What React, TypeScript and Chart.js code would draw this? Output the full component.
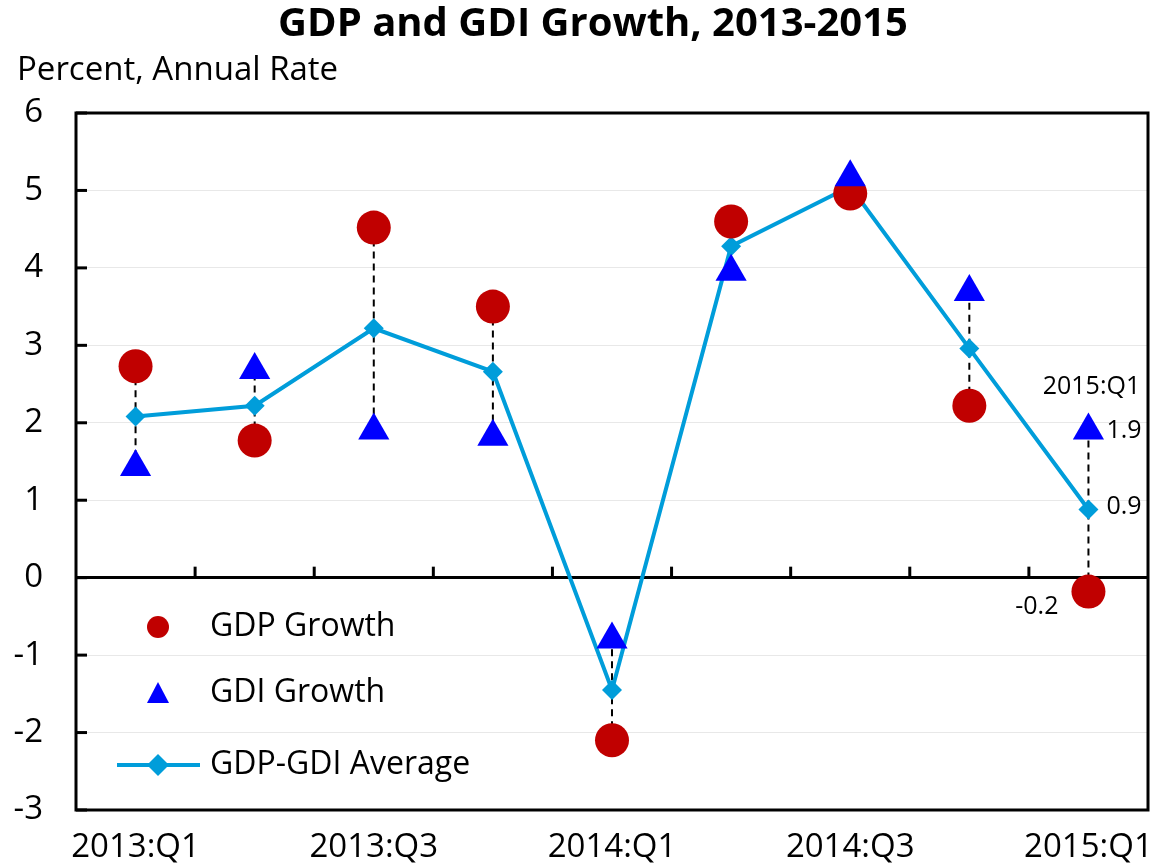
import React, { useEffect, useRef } from "react";
import { Chart, registerables } from "chart.js";

Chart.register(...registerables);

const categories = [
  "2013:Q1", "2013:Q2", "2013:Q3", "2013:Q4",
  "2014:Q1", "2014:Q2", "2014:Q3", "2014:Q4", "2015:Q1",
];
const gdpGrowth = [2.73, 1.77, 4.52, 3.5, -2.1, 4.6, 4.96, 2.22, -0.18];
const gdiGrowth = [1.43, 2.68, 1.9, 1.82, -0.8, 3.95, 5.17, 3.69, 1.9];
const gdpGdiAverage = [2.08, 2.22, 3.22, 2.66, -1.45, 4.28, 5.05, 2.96, 0.88];
const yTicks = [-3, -2, -1, 0, 1, 2, 3, 4, 5, 6];
const lastLabel = "2015:Q1";
const lastGdi = "1.9";
const lastAvg = "0.9";
const lastGdp = "-0.2";

const TITLE = "GDP and GDI Growth, 2013-2015";
const SUBTITLE = "Percent, Annual Rate";
const FONT = "'Open Sans', 'Noto Sans', sans-serif";
const RED = "#C00000";
const BLUE = "#0000FF";
const LIGHTBLUE = "#009DDA";

const decorPlugin = {
  id: "decor",
  beforeDatasetsDraw(chart: any) {
    const { ctx, chartArea: a, scales } = chart;
    const x = scales.x;
    const y = scales.y;
    ctx.save();
    // frame
    ctx.strokeStyle = "#000";
    ctx.lineWidth = 3;
    ctx.strokeRect(a.left, a.top, a.right - a.left, a.bottom - a.top);
    // inward y ticks
    ctx.lineWidth = 3;
    yTicks.forEach((v) => {
      const py = y.getPixelForValue(v);
      ctx.beginPath();
      ctx.moveTo(a.left, py);
      ctx.lineTo(a.left + 11, py);
      ctx.stroke();
    });
    // tick marks on zero line between categories
    const y0 = y.getPixelForValue(0);
    for (let i = 0; i < categories.length - 1; i++) {
      const px = (x.getPixelForValue(i) + x.getPixelForValue(i + 1)) / 2;
      ctx.beginPath();
      ctx.moveTo(px, y0);
      ctx.lineTo(px, y0 - 11);
      ctx.stroke();
    }
    // dashed connectors
    ctx.setLineDash([7, 5]);
    ctx.lineWidth = 2;
    for (let i = 0; i < categories.length; i++) {
      const px = x.getPixelForValue(i);
      ctx.beginPath();
      ctx.moveTo(px, y.getPixelForValue(gdpGrowth[i]));
      ctx.lineTo(px, y.getPixelForValue(gdiGrowth[i]));
      ctx.stroke();
    }
    ctx.restore();
  },
  afterDraw(chart: any) {
    const { ctx, scales } = chart;
    const x = scales.x;
    const y = scales.y;
    ctx.save();
    ctx.fillStyle = "#000";
    // title
    ctx.font = `bold 40px ${FONT}`;
    ctx.textAlign = "center";
    ctx.textBaseline = "middle";
    ctx.fillText(TITLE, 593, 25);
    // subtitle
    ctx.font = `33px ${FONT}`;
    ctx.textAlign = "left";
    ctx.fillText(SUBTITLE, 17, 71);

    // annotations for last point
    const n = categories.length - 1;
    const lx = x.getPixelForValue(n);
    ctx.font = `25px ${FONT}`;
    ctx.textAlign = "center";
    ctx.fillText(lastLabel, lx + 3, y.getPixelForValue(gdiGrowth[n]) - 44);
    ctx.textAlign = "left";
    ctx.fillText(lastGdi, lx + 18, y.getPixelForValue(gdiGrowth[n]));
    ctx.fillText(lastAvg, lx + 18, y.getPixelForValue(gdpGdiAverage[n]) - 3);
    ctx.textAlign = "right";
    ctx.fillText(lastGdp, lx - 30, y.getPixelForValue(gdpGrowth[n]) + 15);

    // legend
    const mx = 158;
    const tx = 210;
    ctx.textAlign = "left";
    ctx.font = `32px ${FONT}`;
    // GDP
    ctx.fillStyle = RED;
    ctx.beginPath();
    ctx.arc(mx, 627, 11, 0, Math.PI * 2);
    ctx.fill();
    ctx.fillStyle = "#000";
    ctx.fillText("GDP Growth", tx, 627);
    // GDI
    ctx.fillStyle = BLUE;
    ctx.beginPath();
    ctx.moveTo(mx, 682);
    ctx.lineTo(mx + 11, 703);
    ctx.lineTo(mx - 11, 703);
    ctx.closePath();
    ctx.fill();
    ctx.fillStyle = "#000";
    ctx.fillText("GDI Growth", tx, 693);
    // Average
    ctx.strokeStyle = LIGHTBLUE;
    ctx.lineWidth = 4;
    ctx.beginPath();
    ctx.moveTo(117, 765);
    ctx.lineTo(200, 765);
    ctx.stroke();
    ctx.fillStyle = LIGHTBLUE;
    ctx.beginPath();
    ctx.moveTo(mx, 754);
    ctx.lineTo(mx + 11, 765);
    ctx.lineTo(mx, 776);
    ctx.lineTo(mx - 11, 765);
    ctx.closePath();
    ctx.fill();
    ctx.fillStyle = "#000";
    ctx.fillText("GDP-GDI Average", tx, 765);
    ctx.restore();
  },
};

export default function App() {
  const ref = useRef<HTMLCanvasElement | null>(null);
  useEffect(() => {
    if (!ref.current) return;
    const chart = new Chart(ref.current, {
      type: "line",
      data: {
        labels: categories,
        datasets: [
          {
            label: "GDP Growth",
            data: gdpGrowth,
            showLine: false,
            pointStyle: "circle",
            pointRadius: 17,
            pointBorderWidth: 0,
            pointBackgroundColor: RED,
            borderColor: RED,
            order: 2,
          },
          {
            label: "GDI Growth",
            data: gdiGrowth,
            showLine: false,
            pointStyle: "triangle",
            pointRadius: 18,
            pointBorderWidth: 0,
            pointBackgroundColor: BLUE,
            borderColor: BLUE,
            order: 1,
          },
          {
            label: "GDP-GDI Average",
            data: gdpGdiAverage,
            borderColor: LIGHTBLUE,
            borderWidth: 4,
            pointStyle: "rectRot",
            pointRadius: 10,
            pointBorderWidth: 0,
            pointBackgroundColor: LIGHTBLUE,
            tension: 0,
            order: 3,
          },
        ],
      },
      options: {
        responsive: false,
        animation: false,
        devicePixelRatio: 1,
        layout: { autoPadding: false, padding: { top: 113, right: 9, left: 0, bottom: 0 } },
        plugins: {
          legend: { display: false },
          tooltip: { enabled: false },
          title: { display: false },
        },
        scales: {
          x: {
            type: "category",
            offset: true,
            grid: { display: false, drawTicks: false },
            border: { display: false },
            ticks: {
              autoSkip: false,
              maxRotation: 0,
              minRotation: 0,
              padding: 18,
              color: "#000",
              font: { family: FONT, size: 33 },
              callback: (_v: any, i: number) => (i % 2 === 0 ? categories[i] : ""),
            },
            afterFit: (s: any) => {
              s.height = 54;
              s.paddingLeft = 0;
              s.paddingRight = 0;
            },
          },
          y: {
            min: -3,
            max: 6,
            ticks: {
              stepSize: 1,
              padding: 33,
              color: "#000",
              font: { family: FONT, size: 33 },
            },
            grid: {
              drawTicks: false,
              color: (c: any) => (c.tick && c.tick.value === 0 ? "#000" : "#E8E8E8"),
              lineWidth: (c: any) => (c.tick && c.tick.value === 0 ? 3 : 1),
            },
            border: { display: false },
            afterFit: (s: any) => {
              s.width = 76;
              s.paddingTop = 0;
              s.paddingBottom = 0;
            },
          },
        },
      },
      plugins: [decorPlugin],
    });
    return () => chart.destroy();
  }, []);
  return (
    <div style={{ position: "absolute", left: 0, top: 0, width: 1157, height: 864, background: "#fff" }}>
      <canvas ref={ref} width={1157} height={864} style={{ width: 1157, height: 864 }} />
    </div>
  );
}
